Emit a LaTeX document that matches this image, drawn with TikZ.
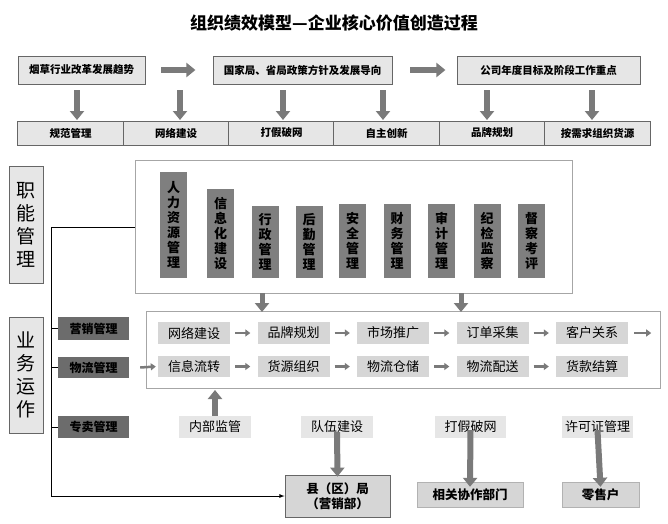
\documentclass[tikz,border=0pt]{standalone}
\usepackage{fontspec}
\setmainfont{Noto Sans CJK SC}
\usetikzlibrary{arrows.meta}
\definecolor{lightbox}{HTML}{E6E6E6}
\definecolor{midbox}{HTML}{D6D6D6}
\definecolor{darkbox}{HTML}{7F7F7F}
\definecolor{arrowgray}{HTML}{7A7A7A}
\begin{document}
\begin{tikzpicture}[x=1pt,y=-1pt]
	\tikzset{>=latex,
		topbox/.style={draw=gray!80!black,fill=lightbox,thick,inner sep=0pt,font=\bfseries\fontsize{10.5}{12}\selectfont},
		barbox/.style={fill=darkbox,inner sep=0pt,align=center,anchor=north,font=\bfseries\fontsize{13}{15}\selectfont},
		rowbox/.style={fill=midbox,inner sep=0pt,font=\fontsize{13}{15}\selectfont},
		sidebox/.style={fill=darkbox!85!black,inner sep=0pt,font=\bfseries\fontsize{12}{14}\selectfont},
		bigarrow/.style={arrowgray,line width=6pt,-{Triangle[length=9pt,width=14pt]}},
		smallarrow/.style={arrowgray,line width=2.5pt,-{Triangle[length=5pt,width=7pt]}}}
	\useasboundingbox (0,0) rectangle (668,523);
	\node[font=\bfseries\fontsize{17}{20}\selectfont] (title) at (334,23) {组织绩效模型—企业核心价值创造过程};
	
	% top rows
	\node[topbox,minimum width=127pt,minimum height=28pt] (t1) at (81.5,70) {烟草行业改革发展趋势};
	\node[topbox,minimum width=179pt,minimum height=28pt] (t2) at (302.5,70) {国家局、省局政策方针及发展导向};
	\node[topbox,minimum width=183pt,minimum height=28pt] (t3) at (548.5,70) {公司年度目标及阶段工作重点};
	\draw[bigarrow] (t1.east)++(16,0) -- ++(34,0) coordinate (a1);
	\draw[bigarrow] (t2.east)++(18,0) -- ++(35,0) coordinate (a2);
	\foreach \x/\t [count=\i] in {70.5/规范管理,176/网络建设,281.5/打假破网,386.5/自主创新,492/品牌规划,597.5/按需求组织货源}
	{
		\node[topbox,minimum width=105.5pt,minimum height=24pt] (b\i) at (\x,133) {\t};
	}
	\foreach \x [count=\i] in {77,180,283,383,487,592}
	\draw[bigarrow] (\x,90) -- (\x,120);
	
	% functions
	\node[draw=gray!80!black,fill=lightbox,thick,minimum width=34pt,minimum height=117pt,align=center,inner sep=0pt,font=\fontsize{19}{23}\selectfont] (fn) at (26,225) {职\\能\\管\\理};
	\draw[gray!70,fill=white] (135,160) rectangle (572,293);
	\coordinate (fnbox) at (135,227);
	\foreach \x/\y/\t in {173.5/172/人\\力\\资\\源\\管\\理,220.5/189/信\\息\\化\\建\\设,265/206/行\\政\\管\\理,309/206/后\\勤\\管\\理,352.5/204/安\\全\\管\\理,397/204/财\\务\\管\\理,441.5/204/审\\计\\管\\理,487/204/纪\\检\\监\\察,531.5/204/督\\察\\考\\评}
	{
		\node[barbox,minimum width=27pt,minimum height={278pt-\y pt}] at (\x,\y) {\t};
	}
	
	% operations
	\node[draw=gray!80!black,fill=lightbox,thick,minimum width=34pt,minimum height=116pt,align=center,inner sep=0pt,font=\fontsize{19}{23}\selectfont] (op) at (26,375) {业\\务\\运\\作};
	\draw[gray!70,fill=white] (146,311) rectangle (660,388);
	\draw[bigarrow,line width=5pt] (262,293) -- (262,312);
	\draw[bigarrow,line width=5pt] (461,293) -- (461,312);
	\node[sidebox,minimum width=71pt,minimum height=23pt] (yx) at (93.5,328.5) {营销管理};
	\node[sidebox,minimum width=71pt,minimum height=21pt] (wl) at (93.5,367.5) {物流管理};
	\node[sidebox,minimum width=71pt,minimum height=22pt] (zm) at (93.5,427) {专卖管理};
	\foreach \n in {yx,wl,zm}
	\draw[thick] (\n.west) -- ++(-7,0);
	\foreach \t [count=\i] in {网络建设,品牌规划,市场推广,订单采集,客户关系}
	{
		\node[rowbox,minimum width=72pt,minimum height=22pt] (r\i) at ({194+99.5*(\i-1)},333) {\t};
	}
	\foreach \t [count=\i] in {信息流转,货源组织,物流仓储,物流配送,货款结算}
	{
		\node[rowbox,minimum width=72pt,minimum height=21pt] (s\i) at ({194+99.5*(\i-1)},366.5) {\t};
	}
	\foreach \i [evaluate=\i as \j using int(\i+1)] in {1,...,4}
	{
		\draw[smallarrow] ([xshift=5pt]r\i.east) -- ([xshift=-7pt]r\j.west);
		\draw[smallarrow] ([xshift=5pt]s\i.east) -- ([xshift=-7pt]s\j.west);
	}
	\draw[smallarrow] ([xshift=6pt]r5.east) -- ++(17,0) coordinate (rend);
	\draw[smallarrow] (wl.east)++(11,0) -- ([xshift=-2pt]s1.west);
	
	% bottom
	\node[rowbox,fill=lightbox,minimum width=72pt,minimum height=22pt] (nb) at (215,427) {内部监管};
	\node[rowbox,fill=lightbox,minimum width=72pt,minimum height=22pt] (dw) at (337,427) {队伍建设};
	\node[rowbox,fill=lightbox,minimum width=71pt,minimum height=22pt] (dj) at (470.5,427) {打假破网};
	\node[rowbox,fill=lightbox,minimum width=71pt,minimum height=22pt] (xk) at (597.5,427) {许可证管理};
	\draw[bigarrow] (nb.north) -- (215,390);
	\node[draw=gray!80!black,fill=midbox,thick,minimum width=105pt,minimum height=42pt,align=center,inner sep=0pt,font=\bfseries\fontsize{12.5}{15}\selectfont] (xj) at (337.5,496) {县（区）局\\（营销部）};
	\node[draw=gray!60,fill=midbox,minimum width=106pt,minimum height=25pt,inner sep=0pt,font=\bfseries\fontsize{12.5}{14}\selectfont] (xg) at (470,494.5) {相关协作部门};
	\node[draw=gray!60,fill=midbox,minimum width=77pt,minimum height=25pt,inner sep=0pt,font=\bfseries\fontsize{12.5}{14}\selectfont] (ls) at (600.5,494.5) {零售户};
	\draw[bigarrow] ([yshift=6pt]dw.south) -- ([yshift=-2pt]xj.north);
	\draw[bigarrow] ([yshift=8pt]dj.south) -- ([yshift=-5pt]xg.north);
	\draw[bigarrow] ([yshift=8pt]xk.south) -- ([yshift=-5pt]ls.north);
	
	% connector
	\draw[thick,->] (fnbox) -| (51,496) -- (xj.west);
\end{tikzpicture}
\end{document}
